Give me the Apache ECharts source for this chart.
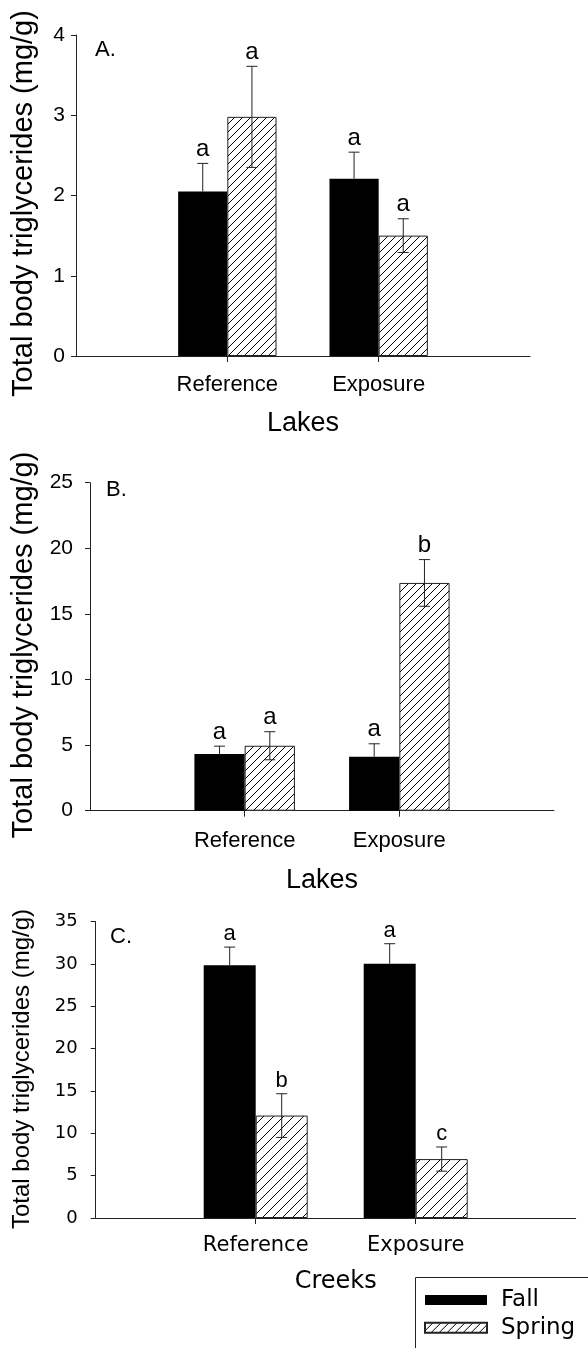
<!DOCTYPE html>
<html><head><meta charset="utf-8">
<script src="https://cdn.jsdelivr.net/npm/echarts@6/dist/echarts.min.js"></script>
<style>html,body{margin:0;padding:0;background:#fff}#c{width:588px;height:1348px}</style>
</head><body><div id="c"></div>
<script>
// ---- data ----
const categories = ['', 'Reference', 'Exposure', ''];
const seasons = ['Fall', 'Spring'];
// Panel A: Lakes
const fallA = [null, 2.05, 2.21, null];
const springA = [null, 2.98, 1.50, null];
const fallErrA = [null, 0.35, 0.33, null];
const springErrA = [null, 0.63, 0.21, null];
const fallLetA = ['', 'a', 'a', ''];
const springLetA = ['', 'a', 'a', ''];
const ticksA = [0, 1, 2, 3, 4];
// Panel B: Lakes
const fallB = [null, 4.32, 4.12, null];
const springB = [null, 4.95, 17.36, null];
const fallErrB = [null, 0.6, 0.98, null];
const springErrB = [null, 1.07, 1.78, null];
const fallLetB = ['', 'a', 'a', ''];
const springLetB = ['', 'a', 'b', ''];
const ticksB = [0, 5, 10, 15, 20, 25];
// Panel C: Creeks
const fallC = [null, 29.87, 30.03, null];
const springC = [null, 12.1, 6.96, null];
const fallErrC = [null, 2.13, 2.37, null];
const springErrC = [null, 2.58, 1.43, null];
const fallLetC = ['', 'a', 'a', ''];
const springLetC = ['', 'b', 'c', ''];
const ticksC = [0, 5, 10, 15, 20, 25, 30, 35];

const yTitle = 'Total body triglycerides (mg/g)';
const xTitles = ['Lakes', 'Lakes', 'Creeks'];
const panelLabels = ['A.', 'B.', 'C.'];

// ---- style ----
const ARIAL = '"Liberation Sans", Arial, sans-serif';
const DEJA = '"DejaVu Sans", sans-serif';
const BAR_FRAC = 0.325;
const LINE = '#222';

function hatch(step) {
  const c = document.createElement('canvas');
  c.width = step; c.height = step;
  const g = c.getContext('2d');
  g.fillStyle = '#fff'; g.fillRect(0, 0, step, step);
  g.strokeStyle = '#000'; g.lineWidth = 1;
  g.beginPath();
  for (const k of [-step, 0, step]) { g.moveTo(k, step); g.lineTo(k + step, 0); }
  g.stroke();
  return c;
}

const panels = [
  {fall: fallA, spring: springA, fe: fallErrA, se: springErrA, fl: fallLetA, sl: springLetA, ticks: ticksA,
   grid: {left: 76, top: 35, width: 454, height: 321}, tickFont: ARIAL, tickSize: 21, yMargin: 11,
   catFont: ARIAL, catSize: 22, catMargin: 18, nameFont: ARIAL, nameSize: 27, nameGap: 54,
   letSize: 24, hatchStep: 8},
  {fall: fallB, spring: springB, fe: fallErrB, se: springErrB, fl: fallLetB, sl: springLetB, ticks: ticksB,
   grid: {left: 90, top: 482.7, width: 464, height: 328}, tickFont: ARIAL, tickSize: 21, yMargin: 17,
   catFont: ARIAL, catSize: 22, catMargin: 19, nameFont: ARIAL, nameSize: 27, nameGap: 56,
   letSize: 24, hatchStep: 8},
  {fall: fallC, spring: springC, fe: fallErrC, se: springErrC, fl: fallLetC, sl: springLetC, ticks: ticksC,
   grid: {left: 95.7, top: 921.7, width: 480, height: 296.3}, tickFont: DEJA, tickSize: 18, yMargin: 18,
   catFont: DEJA, catSize: 21, catMargin: 17, nameFont: DEJA, nameSize: 24, nameGap: 52,
   letSize: 22, hatchStep: 10}
];

// side: -1 = Fall (left, solid black bar hides the lower half), +1 = Spring (right)
function errSeries(k, vals, errs, letters, side, z) {
  const data = [];
  vals.forEach((v, i) => { if (v != null) data.push([i, v, errs[i]]); });
  return {
    type: 'custom', xAxisIndex: k, yAxisIndex: k, data: data, z: z,
    encode: {x: 0, y: 1},
    renderItem: (params, api) => {
      const i = api.value(0), v = api.value(1), e = api.value(2);
      const band = api.size([1, 0])[0];
      const w = band * BAR_FRAC;
      const c = api.coord([i, v]);
      const x = c[0] + side * w / 2;
      const top = api.coord([i, v + e])[1];
      const bot = side < 0 ? c[1] : api.coord([i, v - e])[1];
      const cap = 5.5;
      const st = {stroke: LINE, lineWidth: 1};
      const kids = [
        {type: 'line', shape: {x1: x, y1: top, x2: x, y2: bot}, style: st},
        {type: 'line', shape: {x1: x - cap, y1: top, x2: x + cap, y2: top}, style: st},
        {type: 'text', x: x, y: top - 2, style: {text: letters[i], fill: '#000', fontFamily: ARIAL,
          fontSize: panels[k].letSize, align: 'center', verticalAlign: 'bottom'}}
      ];
      if (side > 0) kids.push({type: 'line', shape: {x1: x - cap, y1: bot, x2: x + cap, y2: bot}, style: st});
      return {type: 'group', children: kids};
    }
  };
}

const grids = [], xAxes = [], yAxes = [], series = [];
panels.forEach((p, k) => {
  grids.push(p.grid);
  xAxes.push({
    type: 'category', gridIndex: k, data: categories, boundaryGap: false,
    axisLine: {lineStyle: {color: LINE, width: 1}},
    axisTick: {show: true, length: 6, lineStyle: {color: LINE}, interval: (i) => i === 1 || i === 2},
    axisLabel: {interval: 0, margin: p.catMargin, color: '#000', fontFamily: p.catFont, fontSize: p.catSize},
    name: xTitles[k], nameLocation: 'middle', nameGap: p.nameGap,
    nameTextStyle: {color: '#000', fontFamily: p.nameFont, fontSize: p.nameSize}
  });
  yAxes.push({
    type: 'value', gridIndex: k, min: p.ticks[0], max: p.ticks[p.ticks.length - 1],
    interval: p.ticks[1] - p.ticks[0], splitLine: {show: false},
    axisLine: {show: true, lineStyle: {color: LINE, width: 1}},
    axisTick: {show: true, length: 5, lineStyle: {color: LINE}},
    axisLabel: {margin: p.yMargin, color: '#000', fontFamily: p.tickFont, fontSize: p.tickSize}
  });
  series.push({
    name: seasons[0], type: 'bar', xAxisIndex: k, yAxisIndex: k, data: p.fall, z: 2,
    barWidth: (BAR_FRAC * 100) + '%', barGap: 0, itemStyle: {color: '#000'}
  });
  series.push({
    name: seasons[1], type: 'bar', xAxisIndex: k, yAxisIndex: k, data: p.spring, z: 2,
    barWidth: (BAR_FRAC * 100) + '%', barGap: 0,
    itemStyle: {color: {image: hatch(p.hatchStep), repeat: 'repeat'}, borderColor: LINE, borderWidth: 1}
  });
  series.push(errSeries(k, p.fall, p.fe, p.fl, -1, 5));
  series.push(errSeries(k, p.spring, p.se, p.sl, 1, 5));
});

const titlePos = [[23.5, 203.5, 29], [23.5, 645, 29], [22.5, 1069, 24]];
const labelPos = [[95, 50], [106, 490], [110, 936.5]];
const graphics = [];
titlePos.forEach(([x, y, fs]) => graphics.push({
  type: 'text', x: x, y: y, rotation: Math.PI / 2,
  style: {text: yTitle, fill: '#000', fontFamily: ARIAL, fontSize: fs, align: 'center', verticalAlign: 'middle'}
}));
labelPos.forEach(([x, y], k) => graphics.push({
  type: 'text', x: x, y: y,
  style: {text: panelLabels[k], fill: '#000', fontFamily: ARIAL, fontSize: 22, align: 'left', verticalAlign: 'middle'}
}));
graphics.push({type: 'rect', shape: {x: 415.5, y: 1277.5, width: 300, height: 200},
  style: {fill: null, stroke: LINE, lineWidth: 1}});

const chart = echarts.init(document.getElementById('c'), null, {renderer: 'canvas'});
chart.setOption({
  animation: false,
  backgroundColor: '#fff',
  grid: grids, xAxis: xAxes, yAxis: yAxes, series: series,
  graphic: graphics,
  legend: {
    data: seasons, orient: 'vertical', left: 424, top: 1288.5, padding: 0,
    itemWidth: 62, itemHeight: 10, itemGap: 4.7, icon: 'rect', selectedMode: false,
    textStyle: {color: '#000', fontFamily: DEJA, fontSize: 23, lineHeight: 23, padding: [0, 0, 0, 9]}
  }
});
</script></body></html>
